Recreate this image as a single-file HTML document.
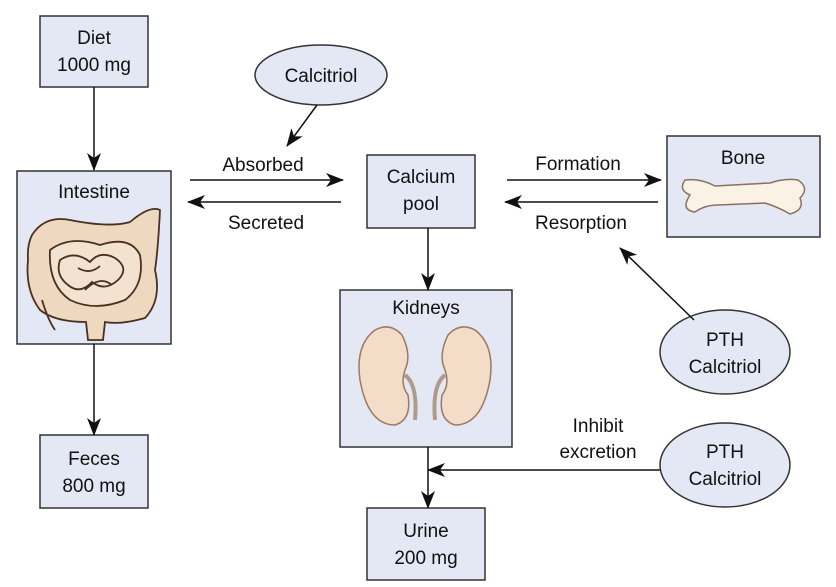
<!DOCTYPE html>
<html><head><meta charset="utf-8"><style>
body{margin:0;background:#fff}
svg{display:block}
text{font-family:"Liberation Sans",sans-serif;font-size:19px;fill:#111;text-anchor:middle}
.b{fill:#e4e8f5;stroke:#333;stroke-width:1.5}
.a{stroke:#111;stroke-width:1.5;fill:none;marker-end:url(#ah)}
</style></head><body>
<svg width="836" height="587" viewBox="0 0 836 587">
<defs><marker id="ah" markerWidth="18" markerHeight="14" refX="17" refY="7" orient="auto" markerUnits="userSpaceOnUse"><path d="M0,0 L18,7 L0,14 L5,7 Z" fill="#111"/></marker></defs>

<g><rect class="b" x="40" y="16" width="108" height="71"/><text x="94" y="44">Diet</text><text x="94" y="71">1000 mg</text></g>
<g><ellipse class="b" cx="321" cy="75" rx="66" ry="30"/><text x="321" y="82">Calcitriol</text></g>
<g><rect class="b" x="17" y="171" width="154" height="173"/><text x="94" y="198">Intestine</text>
<g stroke="#4a3020" stroke-width="1.8">
<path d="M32,235 Q45,215 70,220 Q110,228 130,222 Q150,205 160,210 Q158,250 155,270 Q162,300 145,318 Q120,325 105,322 L103,340 L88,340 L86,322 Q55,322 40,310 Q25,290 28,260 Q27,245 32,235Z" fill="#efd8c0"/>
<path d="M50,250 Q70,235 100,245 Q130,235 140,255 Q145,285 125,300 Q95,312 70,300 Q48,285 50,250Z" fill="#f3e2d0"/>
<path d="M60,260 Q75,250 90,262 Q100,250 115,258 Q130,268 118,280 Q105,292 92,282 Q80,295 68,285 Q55,275 60,260Z M78,268 Q90,275 100,266 M85,290 Q100,275 112,285" fill="none"/>
<path d="M42,300 Q48,320 55,330" fill="none"/></g></g>
<g><rect class="b" x="367" y="155" width="108" height="73"/><text x="421" y="183">Calcium</text><text x="421" y="210">pool</text></g>
<g><rect class="b" x="667" y="136" width="153" height="101"/><text x="743" y="164">Bone</text>
<path d="M685,180 Q678,190 690,195 Q680,210 695,212 Q705,205 718,205 L765,203 Q778,207 790,214 Q805,210 800,198 Q810,188 798,180 Q785,178 770,183 L715,186 Q700,178 685,180Z" fill="#fbf2e6" stroke="#8a7060" stroke-width="1.5"/></g>
<g><rect class="b" x="340" y="290" width="172" height="157"/><text x="426" y="314">Kidneys</text>
<path d="M375,330 Q355,345 360,380 Q368,425 395,425 Q412,420 408,395 Q400,385 405,370 Q412,355 402,335 Q390,322 375,330Z" fill="#f3dcc8" stroke="#9a7a60" stroke-width="1.5"/>
<path d="M475,330 Q495,345 490,380 Q482,425 455,425 Q438,420 442,395 Q450,385 445,370 Q438,355 448,335 Q460,322 475,330Z" fill="#f3dcc8" stroke="#9a7a60" stroke-width="1.5"/>
<path d="M405,375 Q418,385 415,420 M445,375 Q432,385 435,420" stroke="#b09a88" stroke-width="4" fill="none"/></g>
<g><rect class="b" x="40" y="435" width="108" height="73"/><text x="94" y="465">Feces</text><text x="94" y="492">800 mg</text></g>
<g><rect class="b" x="367" y="508" width="118" height="72"/><text x="426" y="537">Urine</text><text x="426" y="564">200 mg</text></g>
<g><ellipse class="b" cx="725" cy="352" rx="65" ry="42"/><text x="725" y="346">PTH</text><text x="725" y="373">Calcitriol</text></g>
<g><ellipse class="b" cx="725" cy="465" rx="65" ry="42"/><text x="725" y="458">PTH</text><text x="725" y="485">Calcitriol</text></g>

<line class="a" x1="94" y1="87" x2="94" y2="170"/>
<line class="a" x1="317" y1="105" x2="287" y2="146"/>
<line class="a" x1="190" y1="180" x2="343" y2="180"/>
<text x="263" y="171">Absorbed</text>
<line class="a" x1="341" y1="202" x2="188" y2="202"/>
<text x="266" y="229">Secreted</text>
<line class="a" x1="507" y1="180" x2="661" y2="180"/>
<text x="578" y="170">Formation</text>
<line class="a" x1="658" y1="202" x2="505" y2="202"/>
<text x="581" y="229">Resorption</text>
<line class="a" x1="694" y1="320" x2="620" y2="248"/>
<line class="a" x1="428" y1="228" x2="428" y2="290"/>
<line class="a" x1="428" y1="447" x2="428" y2="508"/>
<line class="a" x1="94" y1="344" x2="94" y2="435"/>
<line class="a" x1="660" y1="470" x2="428" y2="470"/>
<text x="598" y="432">Inhibit</text>
<text x="598" y="458">excretion</text>
</svg>
</body></html>
